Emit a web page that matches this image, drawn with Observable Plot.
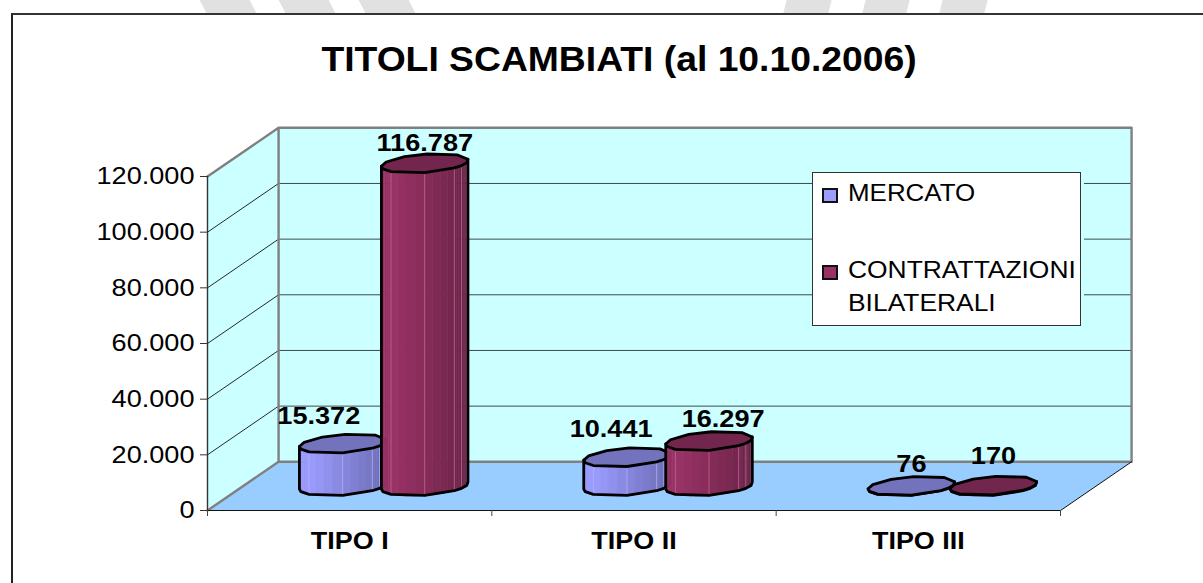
<!DOCTYPE html>
<html>
<head>
<meta charset="utf-8">
<script src="https://cdn.jsdelivr.net/npm/d3@7"></script>
<script src="https://cdn.jsdelivr.net/npm/@observablehq/plot@0.6"></script>
<style>
html,body{margin:0;padding:0;background:#fff;}
#page{position:relative;width:1203px;height:583px;overflow:hidden;font-family:"Liberation Sans",Arial,sans-serif;color:#000;}
#page svg{position:absolute;left:0;top:0;}
.frame{position:absolute;left:11px;top:13px;right:-5px;bottom:-5px;border-left:2px solid #222;border-top:2px solid #333;box-sizing:border-box;}
.stripe{position:absolute;top:0;height:13px;background:#e1e1e1;}
.legend{position:absolute;left:812px;top:172px;width:269px;height:154px;box-sizing:border-box;background:#fff;border:1px solid #333;box-shadow:3px 0 0 #ccffff;}
.sw{position:absolute;left:9px;width:16px;height:15px;box-sizing:border-box;border:2px solid #111;}
.lt{position:absolute;left:35px;font-size:24px;line-height:26px;transform-origin:0 50%;white-space:nowrap;}
</style>
</head>
<body>
<div id="page"></div>
<script>
// Data
const chartTitle = "TITOLI SCAMBIATI (al 10.10.2006)";
const categories = ["TIPO I", "TIPO II", "TIPO III"];
const seriesNames = ["MERCATO", "CONTRATTAZIONI BILATERALI"];
const mercato = [15372, 10441, 76];
const bilaterali = [116787, 16297, 170];
const yTicks = [0, 20000, 40000, 60000, 80000, 100000, 120000];

// Oblique projection of the 3D box: depth z in [0,1] shifts x (categories) and y (value units)
const DX = 0.25, DV = 17500, K = 0.993;
const P = (x, v, z = 0) => ({x: x + z * DX, y: v + z * DV});
const closed = pts => [...pts, pts[0]];
const poly = (pts, o) => Plot.line(closed(pts), {x: "x", y: "y", strokeLinejoin: "round", ...o});
const seg = (pts, o) => Plot.line(pts, {x: "x", y: "y", strokeLinejoin: "round", ...o});

const fmt = d3.formatLocale({decimal: ",", thousands: ".", grouping: [3], currency: ["", ""]}).format(",d");
const nCat = categories.length, vMax = yTicks[yTicks.length - 1];

// Cylinder facets (the reference is a coarse, irregular polygon)
const angles = [4, 25, 60, 106, 137, 172, 197, 214, 238, 289, 332, 347];
const frontAngles = [197, 214, 238, 289, 332, 347, 364, 385];
const facetLines = [238, 289, 332, 347, 364];
const RX = 0.1442, RZ = 0.2, ZC = 0.5;
const ring = (cx, v, a) => {
  const t = a * Math.PI / 180;
  return P(cx + RX * Math.cos(t), v * K, ZC + RZ * Math.sin(t));
};
const palette = [
  {light: "#9c9cff", dark: "#6c6cb4", cap: "#7373bd", line: "#b9b9ff"},
  {light: "#9b3366", dark: "#6c2448", cap: "#73264d", line: "#c8709c"}
];
function cylinder(cx, v, s) {
  const c = palette[s], shade = d3.interpolateRgb(c.light, c.dark);
  const xs = frontAngles.map(a => ring(cx, 0, a).x), x0 = xs[0], x1 = xs[xs.length - 1];
  const strips = [];
  frontAngles.slice(0, -1).forEach((a, i) => {
    const n = 4, b = frontAngles[i + 1];
    for (let j = 0; j < n; j++) {
      const a0 = a + (b - a) * j / n, a1 = a + (b - a) * (j + 1) / n;
      const mid = ring(cx, 0, (a0 + a1) / 2).x, u = (mid - x0) / (x1 - x0);
      const col = shade(u < 0.12 ? 0.04 : (u - 0.12) / 0.88);
      const id = `${i}-${j}`;
      const lo0 = ring(cx, 0, a0), lo1 = ring(cx, 0, a1), hi1 = ring(cx, v, a1), hi0 = ring(cx, v, a0);
      for (const p of [lo0, lo1, hi1, hi0, lo0]) strips.push({...p, id, col});
    }
  });
  const marks = [Plot.line(strips, {x: "x", y: "y", z: "id", fill: "col", stroke: "col", strokeWidth: 0.6})];
  // facet highlights
  facetLines.forEach(a => {
    marks.push(seg([ring(cx, 0, a), ring(cx, v, a)], {stroke: c.line, strokeWidth: 0.9, strokeOpacity: 0.75}));
  });
  // outline of the side + the cap
  const lower = frontAngles.map(a => ring(cx, 0, a));
  marks.push(seg([ring(cx, v, 197), ...lower, ring(cx, v, 25)], {stroke: "#000", strokeWidth: 2.8}));
  marks.push(poly(angles.map(a => ring(cx, v, a)), {fill: c.cap, stroke: "#000", strokeWidth: 2.8}));
  return marks;
}

// Walls and floor
const walls = [
  poly([P(0, 0, 1), P(nCat, 0, 1), P(nCat, vMax, 1), P(0, vMax, 1)], {fill: "#ccffff", stroke: "none"}),
  poly([P(0, 0, 0), P(0, 0, 1), P(0, vMax, 1), P(0, vMax, 0)], {fill: "#ccffff", stroke: "none"}),
  ...yTicks.slice(1, -1).map(t => seg([P(0, t, 1), P(nCat, t, 1)], {stroke: "#3c4a4a", strokeWidth: 1})),
  ...yTicks.slice(1, -1).map(t => seg([P(0, t, 0), P(0, t, 1)], {stroke: "#111", strokeWidth: 0.9})),
  poly([P(0, 0, 0), P(nCat, 0, 0), P(nCat, 0, 1), P(0, 0, 1)], {fill: "#99ccff", stroke: "none"}),
  seg([P(0, vMax, 0), P(0, vMax, 1), P(nCat, vMax, 1), P(nCat, 0, 1), P(0, 0, 1), P(0, vMax, 1)], {stroke: "#808080", strokeWidth: 2.4}),
  seg([P(0, 0, 0), P(0, 0, 1)], {stroke: "#808080", strokeWidth: 2.4}),
  seg([P(0, 0, 0), P(nCat, 0, 0), P(nCat, 0, 1)], {stroke: "#111", strokeWidth: 1}),
  seg([P(0, 0, 0), P(0, vMax, 0)], {stroke: "#333", strokeWidth: 1.4})
];

// Bars, drawn left to right
const OFF = 0.1442, SHIFT = -0.005;
const bars = categories.flatMap((_, i) => [
  ...cylinder(i + 0.5 + SHIFT - OFF, mercato[i], 0),
  ...cylinder(i + 0.5 + SHIFT + OFF, bilaterali[i], 1)
]);

// Value labels with their manual placement in the reference
const nudges = [[-24, -27], [-16, -28], [0, -22]];
const nudges2 = [[0, -20], [14, -22], [0, -29]];
const valueLabel = (cx, v, n) => Plot.text([P(cx, v * K, ZC)], {
  x: "x", y: "y", text: () => fmt(v), dx: n[0], dy: n[1],
  fontSize: 24, fontWeight: "bold", fill: "#000"
});
const labels = categories.flatMap((_, i) => [
  valueLabel(i + 0.5 + SHIFT - OFF, mercato[i], nudges[i]),
  valueLabel(i + 0.5 + SHIFT + OFF, bilaterali[i], nudges2[i])
]);

const chart = Plot.plot({
  width: 1203, height: 583,
  marginLeft: 207, marginRight: 143, marginTop: 176, marginBottom: 73,
  x: {domain: [0, nCat]},
  y: {domain: [0, vMax]},
  style: {background: "transparent", fontFamily: "'Liberation Sans', Arial, sans-serif", color: "#000"},
  marks: [
    ...walls,
    ...bars,
    ...labels,
    Plot.axisY({ticks: yTicks, tickFormat: d => d === 0 ? "0" : fmt(d), tickSize: 7, tickPadding: 6, label: null, fontSize: 24, stroke: "#333"}),
    Plot.axisX({ticks: categories.map((_, i) => i + 0.5), tickFormat: d => categories[d - 0.5], tickSize: 0, tickPadding: 21, label: null, fontSize: 24.5, fontWeight: "bold"}),
    Plot.axisX({ticks: d3.range(nCat + 1), tickFormat: () => "", tickSize: 6, label: null, stroke: "#444"}),
    Plot.text([chartTitle], {frameAnchor: "top", dx: -15, dy: -117, lineAnchor: "middle", fontSize: 35, fontWeight: "bold", fill: "#000"})
  ]
});

const page = document.getElementById("page");
page.appendChild(chart);

// Horizontal stretch of the text, as in the reference
chart.querySelectorAll("text").forEach(t => {
  if (!t.textContent) return;
  const len = t.getComputedTextLength();
  const s = t.textContent;
  const stretch = s === chartTitle ? 1.065 : categories.includes(s) ? 1.1 : 1.13;
  t.setAttribute("lengthAdjust", "spacingAndGlyphs");
  t.setAttribute("textLength", (len * stretch).toFixed(1));
});

// Frame and the page's watermark strip above it
const add = (cls, css, txt) => {
  const d = document.createElement("div");
  d.className = cls; d.style.cssText = css;
  if (txt) d.textContent = txt;
  return d;
};
[[203, 50, 27], [282, 50, 27], [362, 50, 27], [785, 45, -14], [864, 44, -14], [941, 45, -14]]
  .forEach(([l, w, s]) => page.appendChild(add("stripe", `left:${l}px;width:${w}px;transform:skewX(${s}deg)`)));
page.appendChild(add("frame", ""));

// Legend
const legend = add("legend", "");
legend.appendChild(add("sw", `top:15px;background:${palette[0].light}`));
legend.appendChild(add("sw", `top:92px;background:#993366`));
legend.appendChild(add("lt", "top:7px;transform:scaleX(1.08)", seriesNames[0]));
const [w1, w2] = seriesNames[1].split(" ");
legend.appendChild(add("lt", "top:84px;transform:scaleX(1.1)", w1));
legend.appendChild(add("lt", "top:117px;transform:scaleX(1.1)", w2));
page.appendChild(legend);
</script>
</body>
</html>
